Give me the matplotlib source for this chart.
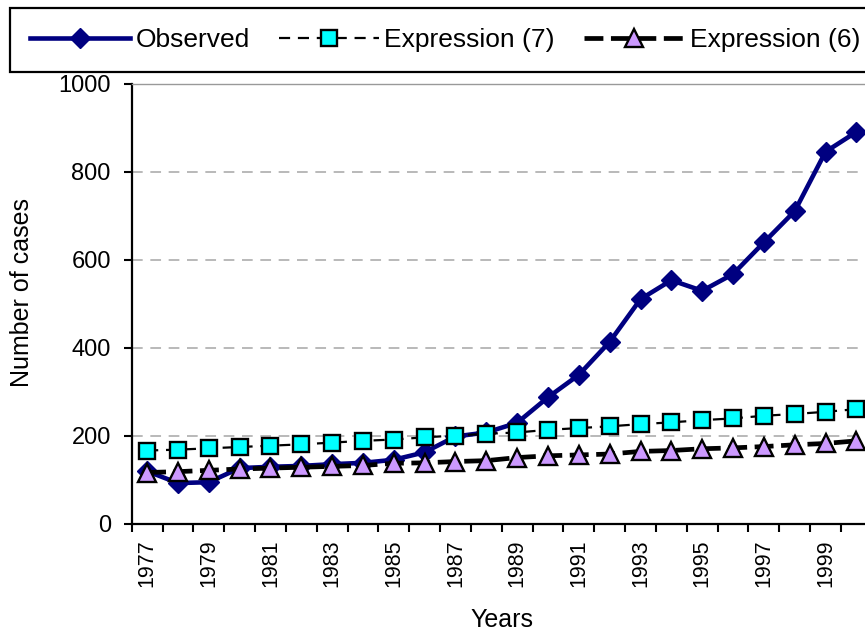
import numpy as np
import matplotlib
matplotlib.use("Agg")
import matplotlib.pyplot as plt

plt.rcParams['font.family'] = ['Liberation Sans', 'DejaVu Sans']

# Annual number of cases, observed and modelled
years = list(range(1977, 2001))
observed = [120, 93, 95, 127, 130, 132, 136, 139, 146, 163, 199, 208,
            230, 288, 339, 414, 511, 554, 530, 568, 640, 711, 846, 891]
expression_7 = [167, 169, 172, 175, 178, 181, 185, 189, 192, 197, 201, 205,
                208, 214, 218, 222, 227, 231, 236, 240, 246, 250, 255, 261]
expression_6 = [117, 119, 122, 125, 127, 129, 131, 133, 138, 139, 142, 144,
                151, 155, 157, 159, 165, 167, 171, 173, 176, 180, 183, 189]
y_ticks = [0, 200, 400, 600, 800, 1000]

W, H = 865, 632
fig = plt.figure(figsize=(W / 100, H / 100), dpi=100)
# plot area runs slightly past the right edge of the canvas
left_px, right_px, top_px, bottom_px = 131.7, 871.8, 84, 524
ax = fig.add_axes([left_px / W, 1 - bottom_px / H,
                   (right_px - left_px) / W, (bottom_px - top_px) / H])

idx = np.arange(len(years))

ax.plot(idx, observed, color='#000080', lw=3.3, marker='D', ms=10.5,
        mfc='#000080', mec='#000080', zorder=3, label='Observed')
ax.plot(idx, expression_7, color='black', lw=1.6, dashes=(5, 3.5),
        marker='s', ms=12, mfc='#00FFFF', mec='black', mew=1.7,
        zorder=4, label='Expression (7)')
ax.plot(idx, expression_6, color='black', lw=3.4, dashes=(4, 1.6),
        marker='^', ms=13, mfc='#CC99FF', mec='black', mew=1.7,
        zorder=5, label='Expression (6)')

ax.set_xlim(-0.5, len(years) - 0.5)
ax.set_ylim(0, 1000)
ax.set_yticks(y_ticks)
ax.set_yticklabels([str(v) for v in y_ticks], fontsize=17)

# category axis: tick marks between categories, labels on every other year
ax.set_xticks(np.arange(-0.5, len(years), 1.0))
ax.set_xticklabels([])
ax.set_xticks(idx[::2], minor=True)
ax.set_xticklabels([str(y) for y in years[::2]], minor=True,
                   rotation=90, fontsize=15.5)
ax.tick_params(axis='x', which='major', direction='out', length=6, width=1.5)
ax.tick_params(axis='x', which='minor', length=0, pad=11)
ax.tick_params(axis='y', direction='out', length=6, width=1.5, pad=9)

for y in y_ticks[1:-1]:
    ax.axhline(y, color='#A6A6A6', lw=1.1, dashes=(7, 5), zorder=1)

for s in ('left', 'bottom'):
    ax.spines[s].set_linewidth(1.6)
    ax.spines[s].set_color('black')
ax.spines['top'].set_color('#999999')
ax.spines['top'].set_linewidth(1.0)
ax.spines['right'].set_visible(False)

ax.set_ylabel('Number of cases', fontsize=18)
ax.yaxis.set_label_coords((34 - left_px) / (right_px - left_px), 0.527)
ax.set_xlabel('Years', fontsize=18)
ax.xaxis.set_label_coords(0.5, (bottom_px - 608) / (bottom_px - top_px))

leg = fig.legend(loc='upper left', bbox_to_anchor=(10 / W, 1 - 8 / H),
                 ncol=3, fontsize=19, frameon=True, fancybox=False,
                 edgecolor='black', framealpha=1, borderpad=0.76,
                 handlelength=3.8, handletextpad=0.2, columnspacing=1.1,
                 numpoints=1, borderaxespad=0)
leg.get_frame().set_linewidth(1.6)

fig.savefig('out.png', dpi=100)
